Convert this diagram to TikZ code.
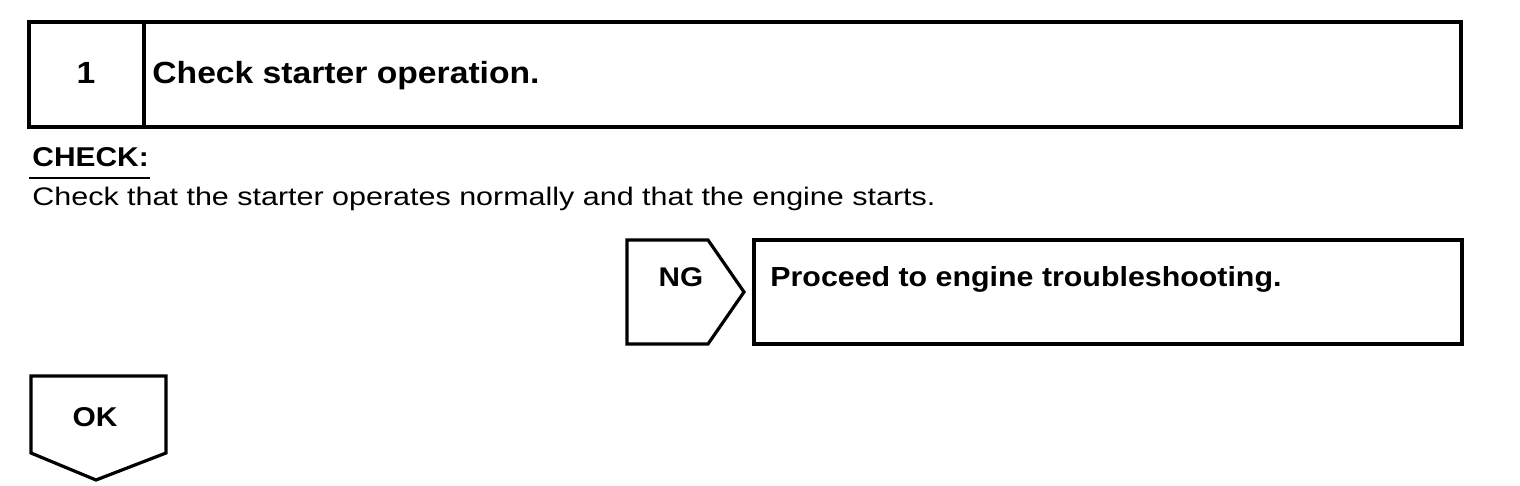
\documentclass[tikz,border=0pt]{standalone}
\usepackage{fontspec}
\setmainfont{Liberation Sans}
\newfontfamily\headfont[FakeStretch=1.1]{Liberation Sans}
\newfontfamily\bodyfont[FakeStretch=1.2]{Liberation Sans}
\usetikzlibrary{positioning}
\tikzset{
    frame/.style={draw=black, line width=1.6pt, line join=miter},
    headtext/.style={inner sep=0pt, font=\headfont\bfseries},
    bodytext/.style={inner sep=0pt, font=\bodyfont\fontsize{12.7}{15}\selectfont},
}

\begin{document}
\begin{tikzpicture}[x=0.5pt, y=-0.5pt]
    \useasboundingbox (0,0) rectangle (1520,486);

    % 步骤框
    \draw[frame] (29,22) rectangle (1461,127);
    \draw[frame] (144,22) -- (144,127);
    \node[headtext, font=\headfont\bfseries\fontsize{15.3}{17}\selectfont, anchor=base] (stepno) at (86,84) {1};
    \node[headtext, font=\headfont\bfseries\fontsize{15.3}{17}\selectfont, anchor=base west] (steptitle) at (152,84) {Check starter operation.};

    % 检查说明
    \node[headtext, font=\headfont\bfseries\fontsize{13.6}{15}\selectfont, anchor=base west] (checkhd) at (32,167) {CHECK:};
    \draw[line width=1pt] (29,178) -- (150,178);
    \node[bodytext, anchor=base west] (checktxt) at (32,206) {Check that the starter operates normally and that the engine starts.};

    % NG 分支
    \draw[frame] (627,240) -- (708,240) -- (744,292) -- (708,344) -- (627,344) -- cycle;
    \node[headtext, font=\headfont\bfseries\fontsize{13.5}{15}\selectfont, anchor=base] (ng) at (681,286) {NG};
    \draw[frame] (754,240) rectangle (1462,344);
    \node[headtext, font=\headfont\bfseries\fontsize{13.8}{15}\selectfont, anchor=base west] (ngtxt) at (770,286) {Proceed to engine troubleshooting.};

    % OK 分支
    \draw[frame] (31,376) -- (166,376) -- (166,453) -- (96,480) -- (31,453) -- cycle;
    \node[headtext, font=\headfont\bfseries\fontsize{13.6}{15}\selectfont, anchor=base] (ok) at (95,426) {OK};
\end{tikzpicture}
\end{document}
